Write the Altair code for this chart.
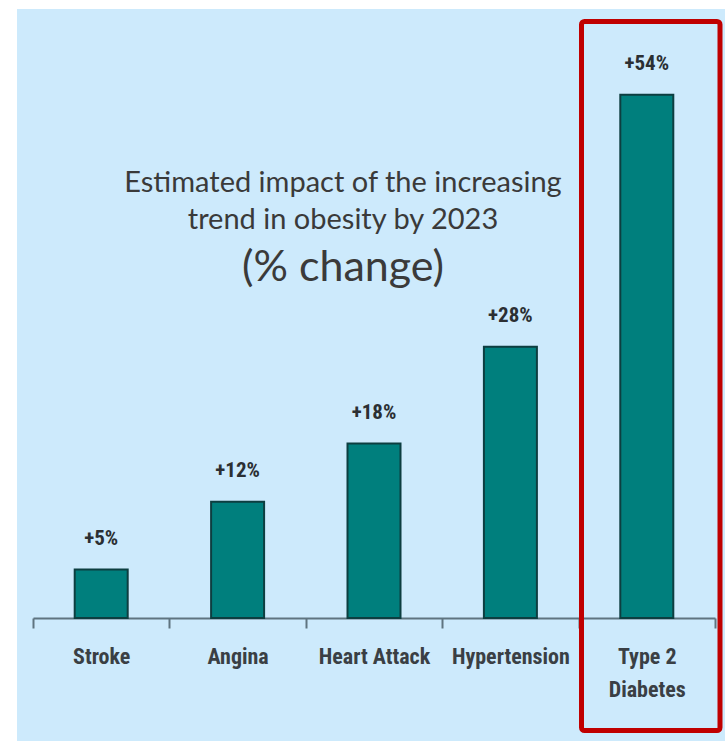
import altair as alt
import pandas as pd

# Projected % change in each condition by 2023
categories = ["Stroke", "Angina", "Heart Attack", "Hypertension", "Type 2 Diabetes"]
changes = [5, 12, 18, 28, 54]
value_labels = ["+5%", "+12%", "+18%", "+28%", "+54%"]
title_lines = ["Estimated impact of the increasing", "trend in obesity by 2023"]
title_unit = "(% change)"
highlight = "Type 2 Diabetes"

df = pd.DataFrame({"condition": categories, "change": changes, "label": value_labels})

W, H = 708, 732
BG = "#cdeafc"
TEAL = "#007f7d"
EDGE = "#0d3e40"
AXIS = "#5f7480"
NARROW = "Roboto Condensed, Roboto, sans-serif"

x = alt.X(
    "condition:N",
    sort=categories,
    scale=alt.Scale(range=[16, 698], paddingInner=0, paddingOuter=0),
    axis=alt.Axis(
        title=None,
        orient="bottom",
        offset=-123,
        domainColor=AXIS,
        domainWidth=2,
        tickColor=AXIS,
        tickWidth=2,
        tickSize=10,
        tickBand="extent",
        labelAngle=0,
        labelFont=NARROW,
        labelFontSize=22,
        labelFontWeight="bold",
        labelColor="#3a3f44",
        labelPadding=18,
        labelLineHeight=33,
        labelExpr="datum.value == 'Type 2 Diabetes' ? ['Type 2', 'Diabetes'] : datum.value",
    ),
)
y = alt.Y("change:Q", scale=alt.Scale(domain=[-12.7, 62.85], nice=False, zero=False), axis=None)

base = alt.Chart(df).encode(x=x)

bars = base.mark_bar(size=53, color=TEAL, stroke=EDGE, strokeWidth=2).encode(
    y=y, y2=alt.datum(0)
)

labels = base.mark_text(
    font=NARROW, fontSize=21, fontWeight="bold", color="#2b2f33", baseline="middle", dy=-31
).encode(y=y, text="label:N")


def title_text(line, size, ypos):
    return (
        alt.Chart(pd.DataFrame({"t": [line]}))
        .mark_text(font="Lato, Carlito, sans-serif", fontSize=size, color="#3a3a3a",
                   align="center", baseline="middle")
        .encode(x=alt.value(326), y=alt.value(ypos), text="t:N")
    )


t1 = title_text(title_lines[0], 29, 174)
t2 = title_text(title_lines[1], 29, 211)
t3 = title_text(title_unit, 43, 259)

box = (
    alt.Chart(pd.DataFrame({"c": [highlight]}))
    .mark_rect(fill=None, fillOpacity=0, stroke="#c00000", strokeWidth=5, cornerRadius=3)
    .encode(x=alt.value(564.5), x2=alt.value(703), y=alt.value(12.5), y2=alt.value(721.5))
)

chart = (
    alt.layer(bars, labels, t1, t2, t3, box)
    .properties(
        width=W,
        height=H,
        autosize=alt.AutoSizeParams(type="none"),
        padding={"left": 17, "top": 9, "right": 0, "bottom": 0},
        background="white",
    )
    .configure_view(fill=BG, stroke=None)
)

chart.save("out.html", embed_options={"renderer": "svg", "actions": False})
